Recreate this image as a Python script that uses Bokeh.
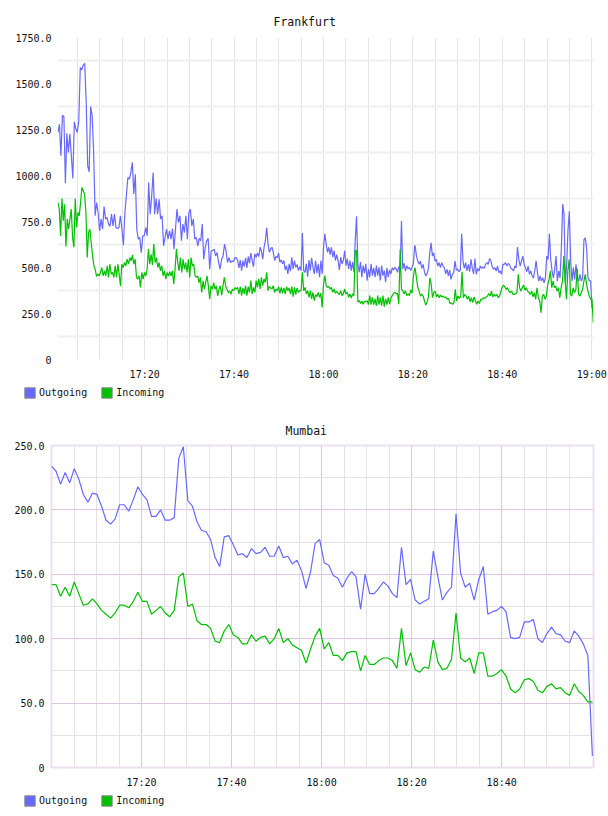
from bokeh.plotting import figure
from bokeh.models import FixedTicker, Legend, Range1d
from bokeh.embed import file_html
from bokeh.resources import INLINE

MONO = "DejaVu Sans Mono"
BLUE = "#6868ff"
GREEN = "#00c000"

# ---------------- Frankfurt (minutes after 17:00) ----------------
fra_x_ticks = [20, 40, 60, 80, 100, 120]
fra_x_labels = ["17:20", "17:40", "18:00", "18:20", "18:40", "19:00"]
fra_y_ticks = [0, 250, 500, 750, 1000, 1250, 1500, 1750]
fra_y_labels = ["0", "250.0", "500.0", "750.0", "1000.0", "1250.0", "1500.0", "1750.0"]
fra_segments = [(0.6, 40.2), (40.5, 80.4), (80.5, 120.35)]

fra_out_a = [1234,1279,1107,1328,1320,958,1230,1125,1225,1107,984,1292,1255,1234,1297,1587,1574,1600,1610,1397,
             1053,1020,1375,1324,1125,781,853,799,699,763,708,831,763,772,736,723,790,726,790,717,712,717,781,708,
             621,799,889,989,980,1016,1071,900,1007,708,654,663,581,672,672,717,672,962,790,889,1016,790,875,790,
             871,763,781,618,663,708,654,699,654,712,600,708,817,745,781,645,736,690,781,654,799,817,726,763,654,
             663,618,658,645,736,545,609,645,658,491,591,591,600,563,581,527,491,545,563,627,591,527,554,527,536,
             531,554]
fra_out_b = [552,538,498,541,483,538,505,552,498,560,523,578,538,505,574,556,578,560,610,589,545,610,647,716,629,
             583,601,610,583,538,560,552,578,529,541,520,538,487,510,465,520,480,556,492,538,501,516,483,505,483,
             687,483,474,520,450,541,483,552,501,465,538,469,520,447,538,465,610,683,629,583,610,570,610,556,592,
             538,570,538,487,556,520,538,592,510,549,492,538,483,529,474,647,778,520,474,529,447,510,469,520,429,
             492,447,520,456,498,447,510,456,501,429,510,456,483,420,498,447,487,465,498,487,501,492,474,505,483,
             752,492,523,480,510,492,501,483,501,520,620]
fra_out_c = [616,562,535,517,535,495,517,477,454,466,495,580,634,562,580,535,544,508,526,499,526,508,499,466,490,
             454,486,435,463,472,535,486,490,477,486,683,535,495,526,481,517,477,544,495,466,549,463,495,481,508,
             495,504,495,517,526,517,549,535,504,490,499,481,508,472,481,463,517,517,526,508,522,517,495,490,481,
             508,499,611,544,508,535,562,517,499,477,508,463,481,454,444,481,537,472,426,454,426,444,417,444,562,
             544,683,544,481,444,490,562,426,481,444,607,845,787,417,517,706,805,535,426,499,435,517,444,426,463,
             426,444,652,661,607,444,430,426,282,282]

fra_in_a = [853,817,672,875,754,844,614,763,708,763,817,663,609,875,717,799,781,853,935,917,899,799,554,690,708,
            636,563,509,491,451,464,455,473,500,455,482,455,509,446,518,464,473,446,509,446,518,464,400,518,500,
            527,509,545,518,554,536,567,518,545,446,437,455,391,473,437,473,455,491,600,518,572,514,627,527,554,
            500,527,482,509,455,482,437,473,455,477,455,482,409,491,602,527,482,554,473,545,491,527,473,545,446,
            554,509,518,455,446,455,418,446,364,427,382,418,455,400,328,400,382,418,382,400,346,382,400,350,400,
            446,400,382,364,373,355,382,373,391]
fra_in_b = [383,392,356,396,347,389,356,401,347,396,365,429,356,392,365,429,392,438,383,447,401,438,420,474,374,
            396,389,383,401,365,383,374,396,360,392,360,389,356,396,374,389,356,396,342,392,353,389,365,374,374,
            474,374,392,356,374,338,374,329,365,320,353,342,365,338,360,283,411,456,401,392,396,383,392,365,383,
            360,371,360,353,374,347,356,383,356,365,338,356,334,356,347,591,594,312,320,305,316,301,316,312,320,
            298,347,298,338,298,329,292,347,298,338,292,347,287,329,298,338,301,334,347,360,365,356,360,301,598,
            383,374,356,374,347,356,347,378,360,447,498]
fra_in_c = [495,444,390,372,345,354,345,318,296,314,345,444,408,336,363,372,340,354,336,350,340,345,336,340,327,
            332,304,309,300,309,381,318,345,332,340,477,336,354,345,327,345,314,336,309,340,318,300,318,304,327,
            327,336,332,340,345,358,345,372,340,354,345,354,336,345,368,394,405,394,381,390,372,363,372,354,354,
            358,363,463,390,372,390,405,376,390,372,363,354,372,340,363,327,390,336,318,255,345,354,327,345,408,
            435,481,390,426,390,399,372,390,336,390,426,562,426,327,481,544,354,345,390,363,381,495,354,345,363,
            381,426,463,408,372,345,327,332,201]

# ---------------- Mumbai ----------------
mum_x_ticks = [20, 40, 60, 80, 100]
mum_x_labels = ["17:20", "17:40", "18:00", "18:20", "18:40"]
mum_y_ticks = [0, 50, 100, 150, 200, 250]
mum_y_labels = ["0", "50.0", "100.0", "150.0", "200.0", "250.0"]
mum_step_min = 1.0097

mum_out = [234,230,220,229,221,232,224,212,206,213,212,203,192,189,193,204,204,199,208,218,212,208,195,195,200,
           192,192,194,240,249,207,203,191,184,183,177,163,156,179,180,173,165,166,163,170,166,167,171,164,164,
           172,163,164,158,161,153,139,152,174,
           177,159,157,149,147,140,147,152,148,123,150,135,135,139,144,141,135,132,171,142,146,130,127,129,131,
           168,148,130,136,140,197,151,140,143,130,146,156,119,121,122,125,121,101,100,101,113,113,115,100,97,
           104,109,104,103,98,97,106,102,96,87,9]
mum_in = [142,142,133,140,133,144,135,126,127,131,127,122,119,116,120,126,126,124,129,136,129,129,119,122,125,
          120,117,122,148,151,125,127,114,111,111,108,98,97,106,111,103,101,96,96,103,98,101,102,96,100,108,97,
          100,95,93,91,81,92,102,
          108,92,97,87,87,83,89,90,90,75,87,80,80,83,85,85,83,77,108,79,89,76,74,78,77,99,82,76,77,84,120,85,82,
          85,73,89,89,71,71,73,76,71,61,58,61,68,69,67,60,58,63,65,61,62,58,56,65,59,56,51,51]

legend_labels = ["Outgoing", "Incoming"]


def spread(vals, t0, t1):
    n = len(vals)
    return [t0 + (t1 - t0) * i / (n - 1) for i in range(n)]


def seg_times(parts):
    xs = []
    for vals, (t0, t1) in zip(parts, fra_segments):
        xs += spread(vals, t0, t1)
    return xs


fra_out = fra_out_a + fra_out_b + fra_out_c
fra_in = fra_in_a + fra_in_b + fra_in_c
fra_t_out = seg_times([fra_out_a, fra_out_b, fra_out_c])
fra_t_in = seg_times([fra_in_a, fra_in_b, fra_in_c])
mum_t = [i * mum_step_min for i in range(len(mum_out))]


def style_axes(p, xt, xl, yt, yl, ystand):
    for ax in (p.xaxis[0], p.yaxis[0]):
        ax.axis_line_color = None
        ax.major_tick_line_color = None
        ax.minor_tick_line_color = None
        ax.major_tick_out = 0
        ax.minor_tick_out = 0
        ax.major_tick_in = 0
        ax.minor_tick_in = 0
        ax.major_label_text_font = MONO
        ax.major_label_text_font_size = "10px"
        ax.major_label_text_color = "#111111"
    p.xaxis[0].ticker = FixedTicker(ticks=xt, minor_ticks=list(range(5, 120, 5)))
    p.xaxis[0].major_label_overrides = dict(zip(xt, xl))
    p.xaxis[0].major_label_standoff = 9
    p.yaxis[0].ticker = FixedTicker(ticks=yt)
    p.yaxis[0].major_label_overrides = dict(zip(yt, yl))
    p.yaxis[0].major_label_standoff = ystand


def style_title(p, text, offset, standoff):
    p.title.text = text
    p.title.align = "left"
    p.title.offset = offset
    p.title.standoff = standoff
    p.title.text_font = MONO
    p.title.text_font_size = "11.5px"
    p.title.text_font_style = "normal"
    p.title.text_color = "#111111"


def legend_fig(height, dx, dy):
    lf = figure(width=608, height=height, output_backend="svg", toolbar_location=None,
                x_range=Range1d(0, 1), y_range=Range1d(0, 1), x_axis_type=None, y_axis_type=None,
                min_border=0, min_border_left=0, min_border_right=0, min_border_top=0, min_border_bottom=0)
    lf.outline_line_color = None
    lf.grid.visible = False
    r1 = lf.quad(left=[5], right=[6], top=[6], bottom=[5], fill_color=BLUE, line_color="#8a8a8a")
    r2 = lf.quad(left=[5], right=[6], top=[6], bottom=[5], fill_color=GREEN, line_color="#8a8a8a")
    leg = Legend(items=[(legend_labels[0], [r1]), (legend_labels[1], [r2])], orientation="horizontal",
                 location=(dx, dy), border_line_color=None, background_fill_alpha=0,
                 padding=0, margin=0, spacing=13, label_standoff=3, glyph_width=13, glyph_height=13,
                 label_height=13, label_text_font=MONO, label_text_font_size="10px",
                 label_text_color="#111111")
    lf.add_layout(leg, "center")
    return lf


# ---------- top figure ----------
p1 = figure(width=608, height=382, output_backend="svg", toolbar_location=None,
            x_range=Range1d(0.5, 120.4), y_range=Range1d(0, 1750),
            min_border_left=57, min_border_right=15, min_border_top=37, min_border_bottom=23)
p1.outline_line_color = None
style_axes(p1, fra_x_ticks, fra_x_labels, fra_y_ticks, fra_y_labels, 6)
p1.xgrid.grid_line_color = "#e4e4e4"
p1.xgrid.minor_grid_line_color = "#e4e4e4"
p1.ygrid.ticker = FixedTicker(ticks=[125, 375, 625, 875, 1125, 1375, 1625])
p1.ygrid.grid_line_color = "#efefef"
p1.ygrid.grid_line_width = 2
style_title(p1, "Frankfurt", 216, 17)
p1.line(fra_t_out, fra_out, line_color=BLUE, line_width=1.2)
p1.line(fra_t_in, fra_in, line_color=GREEN, line_width=1.2)
l1 = legend_fig(30, 23, 13)

# ---------- bottom figure ----------
p2 = figure(width=608, height=380, output_backend="svg", toolbar_location=None,
            x_range=Range1d(0, 120.4), y_range=Range1d(0, 250),
            min_border_left=51, min_border_right=15, min_border_top=33, min_border_bottom=25)
p2.outline_line_color = "#ecdff0"
p2.outline_line_width = 2
style_axes(p2, mum_x_ticks, mum_x_labels, mum_y_ticks, mum_y_labels, 7)
p2.yaxis[0].ticker = FixedTicker(ticks=mum_y_ticks, minor_ticks=[25, 75, 125, 175, 225])
p2.xgrid.grid_line_color = "#dcc6e0"
p2.xgrid.minor_grid_line_color = "#e5e2e6"
p2.ygrid.grid_line_color = "#dcc6e0"
p2.ygrid.minor_grid_line_color = "#e5e2e6"
style_title(p2, "Mumbai", 234, 16)
p2.line(mum_t, mum_out, line_color=BLUE, line_width=1.2)
p2.line(mum_t, mum_in, line_color=GREEN, line_width=1.2)
l2 = legend_fig(24, 23, 9)

open("out.html", "w").write(file_html([p1, l1, p2, l2], INLINE))
